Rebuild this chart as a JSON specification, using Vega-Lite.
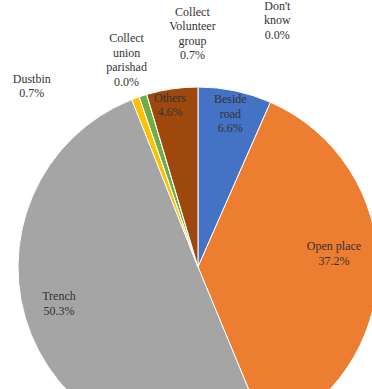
{
  "$schema": "https://vega.github.io/schema/vega-lite/v6.json",
  "width": 396,
  "height": 534,
  "autosize": "none",
  "padding": 0,
  "background": "white",
  "config": {"view": {"stroke": null}, "text": {"font": "Liberation Serif", "fontSize": 12, "lineHeight": 14.5, "lineBreak": "\n", "color": "#333333", "baseline": "middle", "align": "center"}},
  "data": {"values": [
    {"idx": 1, "cat": "Beside road", "value": 6.6, "label": "Beside\nroad\n6.6%"},
    {"idx": 2, "cat": "Open place", "value": 37.2, "label": "Open place\n37.2%"},
    {"idx": 3, "cat": "Trench", "value": 50.3, "label": "Trench\n50.3%"},
    {"idx": 4, "cat": "Dustbin", "value": 0.7, "label": "Dustbin\n0.7%"},
    {"idx": 5, "cat": "Collect union parishad", "value": 0.0, "label": "Collect\nunion\nparishad\n0.0%"},
    {"idx": 6, "cat": "Collect Volunteer group", "value": 0.7, "label": "Collect\nVolunteer\ngroup\n0.7%"},
    {"idx": 7, "cat": "Don't know", "value": 0.0, "label": "Don't\nknow\n0.0%"},
    {"idx": 8, "cat": "Others", "value": 4.6, "label": "Others\n4.6%"}
  ]},
  "encoding": {
    "theta": {"field": "value", "type": "quantitative", "stack": true},
    "order": {"field": "idx", "type": "quantitative"}
  },
  "layer": [
    {
      "mark": {"type": "arc", "radius": 180, "stroke": "white", "strokeWidth": 1},
      "encoding": {
        "color": {"field": "cat", "type": "nominal", "sort": null, "legend": null,
          "scale": {"domain": ["Beside road", "Open place", "Trench", "Dustbin", "Collect union parishad", "Collect Volunteer group", "Don't know", "Others"],
                    "range": ["#4472C4", "#ED7D31", "#A5A5A5", "#FFC000", "#5B9BD5", "#70AD47", "#264478", "#9E480E"]}}
      }
    },
    {"mark": {"type": "text", "radius": 157, "dy": -14},
     "encoding": {"text": {"condition": {"test": "datum.cat === 'Beside road'", "field": "label"}, "value": ""}}},
    {"mark": {"type": "text", "radius": 136, "dy": -22},
     "encoding": {"text": {"condition": {"test": "datum.cat === 'Open place'", "field": "label"}, "value": ""}}},
    {"mark": {"type": "text", "radius": 150, "dy": -27},
     "encoding": {"text": {"condition": {"test": "datum.cat === 'Trench'", "field": "label"}, "value": ""}}},
    {"mark": {"type": "text", "radius": 160, "dx": -5, "dy": -11},
     "encoding": {"text": {"condition": {"test": "datum.cat === 'Others'", "field": "label"}, "value": ""}}},
    {"mark": {"type": "text", "radius": 185, "dx": -102, "dy": -15},
     "encoding": {"text": {"condition": {"test": "datum.cat === 'Dustbin'", "field": "label"}, "value": ""}}},
    {"mark": {"type": "text", "radius": 185, "dx": -11, "dy": -54},
     "encoding": {"text": {"condition": {"test": "datum.cat === 'Collect union parishad'", "field": "label"}, "value": ""}}},
    {"mark": {"type": "text", "radius": 185, "dx": 51, "dy": -79},
     "encoding": {"text": {"condition": {"test": "datum.cat === 'Collect Volunteer group'", "field": "label"}, "value": ""}}},
    {"mark": {"type": "text", "radius": 185, "dx": 132, "dy": -84},
     "encoding": {"text": {"condition": {"test": "datum.cat === \"Don't know\"", "field": "label"}, "value": ""}}}
  ]
}
